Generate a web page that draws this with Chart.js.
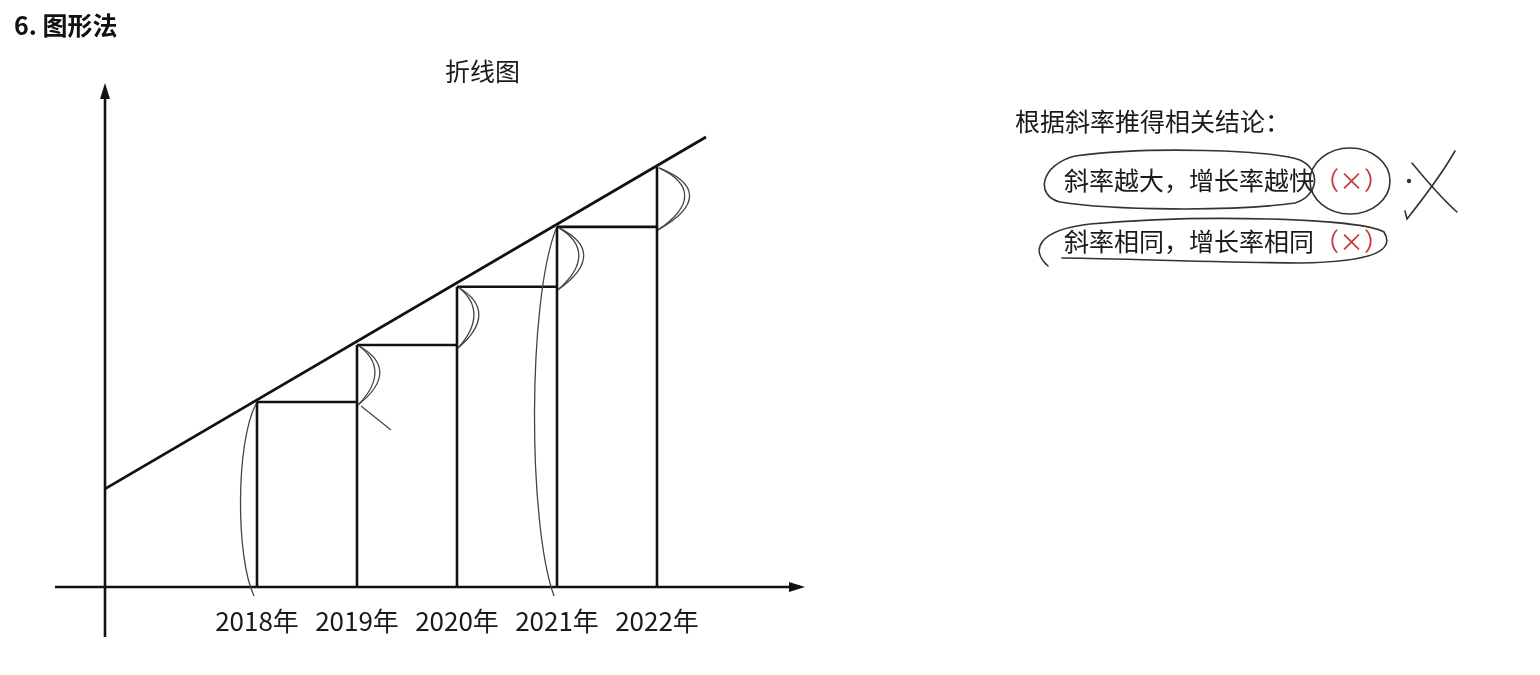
<!DOCTYPE html>
<html><head><meta charset="utf-8">
<script src="https://cdn.jsdelivr.net/npm/chart.js@4"></script>
<style>
html,body{margin:0;padding:0;background:#fff;}
body{width:1540px;height:675px;position:relative;overflow:hidden;font-family:"Noto Sans CJK SC","Noto Sans",sans-serif;color:#1a1a1a;}
#c{position:absolute;left:0;top:0;}
.t{position:absolute;white-space:nowrap;line-height:1;}
#h{left:14px;top:12px;font-size:25px;font-weight:bold;color:#111;}
#ttl{left:445px;top:58px;font-size:25px;}
#n0{left:1015px;top:108px;font-size:25px;}
#n1{left:1064px;top:167px;font-size:25px;}
#n2{left:1064px;top:228px;font-size:25px;}
.red{color:#c8383c;}
svg{position:absolute;left:0;top:0;}
</style></head>
<body>
<canvas id="c" width="1540" height="675"></canvas>
<div class="t" id="h">6. 图形法</div>
<div class="t" id="ttl">折线图</div>
<div class="t" id="n0">根据斜率推得相关结论：</div>
<div class="t" id="n1">斜率越大，增长率越快<span class="red">（×）</span></div>
<div class="t" id="n2">斜率相同，增长率相同<span class="red">（×）</span></div>
<svg width="1540" height="675" fill="none" stroke="#333" stroke-width="1.6" stroke-linecap="round">
  <path d="M1075,156 C1150,146 1270,150 1300,160 C1322,170 1318,196 1295,203 C1230,212 1110,210 1060,202 C1035,196 1040,165 1075,156"/>
  <ellipse cx="1350" cy="181" rx="40" ry="33"/>
  <path d="M1048,266 C1030,250 1038,230 1090,224 C1200,214 1360,218 1384,232 C1395,250 1375,262 1300,263 C1200,262 1100,258 1062,258"/>
  <path d="M1455,151 C1442,174 1422,200 1407,219 L1405,211"/>
  <path d="M1412,163 C1426,180 1440,197 1457,212"/>
  <circle cx="1409" cy="181" r="1.4" fill="#333"/>
</svg>
<script>
// ---- data ----
const years = [2018, 2019, 2020, 2021, 2022];
const tickLabels = ['2018年', '2019年', '2020年', '2021年', '2022年'];
const values = [3.15, 4.12, 5.11, 6.13, 7.15];
const trendX = [2016.48, 2022.49];
const trendY = [1.67, 7.66];
const axisOriginX = 2016.48;   // where the vertical axis stands
const axisBottomY = -0.85;     // vertical axis runs a bit below zero
const rightBraceYears = [2019, 2020, 2021, 2022];
const leftBraceYears = [2018, 2021];

// ---- build datasets ----
const trendData = trendX.map((x, i) => ({x, y: trendY[i]}));
const vertData = [];
years.forEach((yr, i) => { vertData.push({x: yr, y: 0}, {x: yr, y: values[i]}, {x: yr, y: null}); });
const horizData = [];
for (let i = 0; i < years.length - 1; i++) {
  horizData.push({x: years[i], y: values[i]}, {x: years[i + 1], y: values[i]}, {x: years[i + 1], y: null});
}

const handPlugin = {
  id: 'hand',
  afterDatasetsDraw(chart) {
    const {ctx, scales: {x, y}} = chart;
    ctx.save();
    // axes with arrows
    ctx.strokeStyle = '#111'; ctx.fillStyle = '#111'; ctx.lineWidth = 2.6;
    const ox = x.getPixelForValue(axisOriginX), oy = y.getPixelForValue(0);
    const yb = y.getPixelForValue(axisBottomY), yt = y.getPixelForValue(y.max);
    const xl = x.getPixelForValue(x.min), xr = x.getPixelForValue(x.max);
    ctx.beginPath(); ctx.moveTo(ox, yb); ctx.lineTo(ox, yt + 12); ctx.stroke();
    ctx.beginPath(); ctx.moveTo(ox, yt); ctx.lineTo(ox - 5, yt + 16); ctx.lineTo(ox + 5, yt + 16); ctx.closePath(); ctx.fill();
    ctx.beginPath(); ctx.moveTo(xl, oy); ctx.lineTo(xr - 12, oy); ctx.stroke();
    ctx.beginPath(); ctx.moveTo(xr, oy); ctx.lineTo(xr - 16, oy - 5); ctx.lineTo(xr - 16, oy + 5); ctx.closePath(); ctx.fill();

    // hand-drawn braces
    ctx.strokeStyle = '#444'; ctx.lineWidth = 1.3;
    const rb = [23, 22, 27, 33];
    rightBraceYears.forEach((yr, k) => {
      const i = years.indexOf(yr);
      const xp = x.getPixelForValue(yr);
      const top = y.getPixelForValue(values[i]) + 1;
      const bot = y.getPixelForValue(values[i - 1]) + 3;
      const h = bot - top;
      [rb[k], rb[k] - 5].forEach(b => {
        ctx.beginPath();
        ctx.moveTo(xp + 2, top);
        ctx.bezierCurveTo(xp + b * 1.25, top + h * 0.25, xp + b * 1.35, top + h * 0.6, xp + 1, bot);
        ctx.stroke();
      });
      if (yr === 2019) {
        ctx.beginPath(); ctx.moveTo(xp + 4, bot + 1); ctx.lineTo(xp + 34, bot + 25); ctx.stroke();
      }
    });
    const lb = [16, 22];
    leftBraceYears.forEach((yr, k) => {
      const i = years.indexOf(yr);
      const xp = x.getPixelForValue(yr);
      const top = y.getPixelForValue(values[i]) + 2;
      const bot = oy + 9;
      const h = bot - top;
      const c = lb[k] / 0.75;
      ctx.beginPath();
      ctx.moveTo(xp - 1, top);
      ctx.bezierCurveTo(xp - c, top + h * 0.2, xp - c, top + h * 0.8, xp - 3, bot);
      ctx.stroke();
    });
    ctx.restore();
  }
};

new Chart(document.getElementById('c'), {
  type: 'line',
  data: {
    datasets: [
      {data: trendData, borderColor: '#111', borderWidth: 2.8, pointRadius: 0, tension: 0},
      {data: vertData, borderColor: '#111', borderWidth: 2.6, pointRadius: 0, spanGaps: false},
      {data: horizData, borderColor: '#111', borderWidth: 2.6, pointRadius: 0, spanGaps: false}
    ]
  },
  options: {
    responsive: false,
    animation: false,
    devicePixelRatio: 1,
    layout: {padding: {left: 55, right: 735, top: 83, bottom: 0}},
    plugins: {legend: {display: false}, tooltip: {enabled: false}, title: {display: false}},
    scales: {
      x: {
        type: 'linear', min: 2015.98, max: 2023.48,
        grid: {display: false, drawTicks: false}, border: {display: false},
        afterBuildTicks: s => { s.ticks = years.map(v => ({value: v})); },
        afterFit: s => { s.height = 75; },
        ticks: {
          autoSkip: false, maxRotation: 0, padding: 6, color: '#1a1a1a',
          font: {family: '"Noto Sans CJK SC", sans-serif', size: 26},
          callback: (v) => tickLabels[years.indexOf(v)]
        }
      },
      y: {type: 'linear', min: -0.2213, max: 8.5787, display: false}
    }
  },
  plugins: [handPlugin]
});
</script>
</body></html>
